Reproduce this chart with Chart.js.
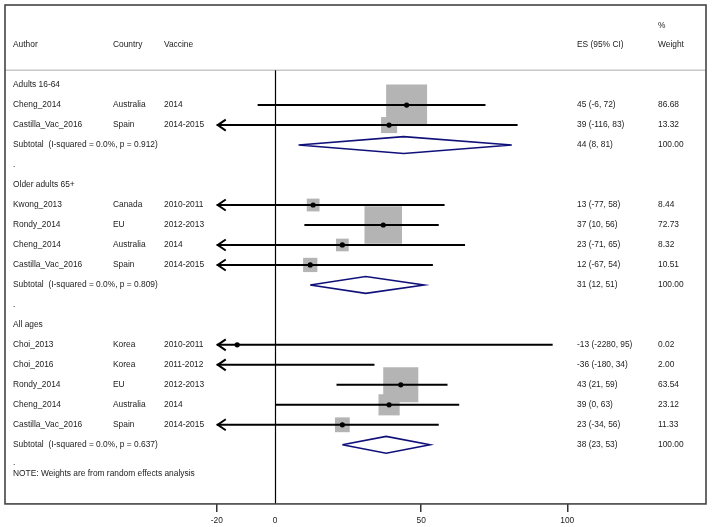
<!DOCTYPE html>
<html>
<head>
<meta charset="utf-8">
<script src="https://cdn.jsdelivr.net/npm/chart.js@4"></script>
<style>
  body { margin: 0; background: #fff; }
</style>
</head>
<body>
<canvas id="forest" width="712" height="527"></canvas>
<script>
// data
const groups = ["Adults 16-64", "Older adults 65+", "All ages"];
const studyGroup = [0, 0, 1, 1, 1, 1, 2, 2, 2, 2, 2];
const authors = ["Cheng_2014", "Castilla_Vac_2016", "Kwong_2013", "Rondy_2014", "Cheng_2014", "Castilla_Vac_2016",
  "Choi_2013", "Choi_2016", "Rondy_2014", "Cheng_2014", "Castilla_Vac_2016"];
const countries = ["Australia", "Spain", "Canada", "EU", "Australia", "Spain", "Korea", "Korea", "EU", "Australia", "Spain"];
const seasons = ["2014", "2014-2015", "2010-2011", "2012-2013", "2014", "2014-2015", "2010-2011", "2011-2012", "2012-2013", "2014", "2014-2015"];
const es = [45, 39, 13, 37, 23, 12, -13, -36, 43, 39, 23];
const ciLow = [-6, -116, -77, 10, -71, -67, -2280, -180, 21, 0, -34];
const ciHigh = [72, 83, 58, 56, 65, 54, 95, 34, 59, 63, 56];
const weights = [86.68, 13.32, 8.44, 72.73, 8.32, 10.51, 0.02, 2.00, 63.54, 23.12, 11.33];
const subHet = ["I-squared = 0.0%, p = 0.912", "I-squared = 0.0%, p = 0.809", "I-squared = 0.0%, p = 0.637"];
const subEs = [44, 31, 38];
const subLow = [8, 12, 23];
const subHigh = [81, 51, 53];
const xTicks = [-20, 0, 50, 100];
const plotMin = -20;

// row index for each line of the table
const studyRow = [], headRow = [], subRow = [], dotRow = [];
let r = 0;
groups.forEach((g, gi) => {
  headRow.push(r++);
  studyGroup.forEach((sg, i) => { if (sg === gi) studyRow[i] = r++; });
  subRow.push(r++);
  dotRow.push(r++);
});

const family = "'Liberation Sans', Arial, sans-serif";
const font = "8.4px " + family;
const ink = "#222";

const shown = es.map((v, i) => i).filter(i => es[i] >= plotMin);

const datasets = [];
// weight boxes
datasets.push({
  type: "scatter",
  order: 5,
  data: shown.map(i => ({ x: es[i], y: studyRow[i] })),
  pointStyle: "rect",
  pointRadius: shown.map(i => 4.4 * Math.sqrt(weights[i]) / Math.SQRT2),
  backgroundColor: "#b4b4b4",
  borderWidth: 0,
});
// confidence intervals
es.forEach((v, i) => {
  datasets.push({
    type: "line",
    order: 3,
    data: [{ x: Math.max(ciLow[i], plotMin), y: studyRow[i] }, { x: ciHigh[i], y: studyRow[i] }],
    borderColor: "#000",
    borderWidth: 2,
    pointRadius: 0,
  });
});
// point estimates
datasets.push({
  type: "scatter",
  order: 1,
  data: shown.map(i => ({ x: es[i], y: studyRow[i] })),
  pointRadius: 2.6,
  backgroundColor: "#000",
  borderWidth: 0,
});
// subtotal diamonds
subEs.forEach((v, i) => {
  const y = subRow[i];
  datasets.push({
    type: "line",
    order: 2,
    data: [{ x: subLow[i], y: y }, { x: v, y: y - 0.42 }, { x: subHigh[i], y: y }, { x: v, y: y + 0.42 }, { x: subLow[i], y: y }],
    borderColor: "#10107a",
    borderWidth: 1.6,
    pointRadius: 0,
    tension: 0,
  });
});

const tablePlugin = {
  id: "table",
  beforeDatasetsDraw(chart) {
    const { ctx, chartArea: a, scales: { x, y } } = chart;
    ctx.save();
    // header separator
    ctx.strokeStyle = "#c8c8c8";
    ctx.lineWidth = 1.5;
    ctx.beginPath();
    ctx.moveTo(a.left, y.getPixelForValue(-0.75));
    ctx.lineTo(a.right, y.getPixelForValue(-0.75));
    ctx.stroke();
    // line of no effect
    ctx.strokeStyle = "#000";
    ctx.lineWidth = 1.2;
    const x0 = Math.round(x.getPixelForValue(0)) + 0.5;
    ctx.beginPath();
    ctx.moveTo(x0, y.getPixelForValue(-0.75));
    ctx.lineTo(x0, a.bottom);
    ctx.stroke();
    ctx.restore();
  },
  afterDatasetsDraw(chart) {
    const { ctx, chartArea: a, scales: { x, y } } = chart;
    ctx.save();
    // arrows for truncated intervals
    ctx.strokeStyle = "#000";
    ctx.lineWidth = 2;
    ciLow.forEach((lo, i) => {
      if (lo >= plotMin) return;
      const px = x.getPixelForValue(plotMin), py = y.getPixelForValue(studyRow[i]);
      ctx.beginPath();
      ctx.moveTo(px + 9, py - 5.5);
      ctx.lineTo(px + 1, py);
      ctx.lineTo(px + 9, py + 5.5);
      ctx.stroke();
    });
    // table text
    ctx.fillStyle = ink;
    ctx.font = font;
    ctx.textBaseline = "middle";
    const col = { author: 13, country: 113, vaccine: 164, es: 577, wt: 658 };
    const hy = y.getPixelForValue(-2);
    ctx.fillText("Author", col.author, hy);
    ctx.fillText("Country", col.country, hy);
    ctx.fillText("Vaccine", col.vaccine, hy);
    ctx.fillText("ES (95% CI)", col.es, hy);
    ctx.fillText("Weight", col.wt, hy);
    ctx.fillText("%", col.wt, y.getPixelForValue(-3));
    groups.forEach((g, gi) => {
      ctx.fillText(g, col.author, y.getPixelForValue(headRow[gi]));
      const sy = y.getPixelForValue(subRow[gi]);
      ctx.fillText("Subtotal  (" + subHet[gi] + ")", col.author, sy);
      ctx.fillText(subEs[gi] + " (" + subLow[gi] + ", " + subHigh[gi] + ")", col.es, sy);
      ctx.fillText("100.00", col.wt, sy);
      const dy = gi === groups.length - 1 ? y.getPixelForValue(dotRow[gi]) - 2 : y.getPixelForValue(dotRow[gi]);
      ctx.fillText(".", col.author, dy);
    });
    authors.forEach((au, i) => {
      const py = y.getPixelForValue(studyRow[i]);
      ctx.fillText(au, col.author, py);
      ctx.fillText(countries[i], col.country, py);
      ctx.fillText(seasons[i], col.vaccine, py);
      ctx.fillText(es[i] + " (" + ciLow[i] + ", " + ciHigh[i] + ")", col.es, py);
      ctx.fillText(weights[i].toFixed(2), col.wt, py);
    });
    ctx.fillText("NOTE: Weights are from random effects analysis", col.author, y.getPixelForValue(dotRow[dotRow.length - 1] + 0.45));
    // outer frame
    ctx.strokeStyle = "#444";
    ctx.lineWidth = 1.6;
    ctx.strokeRect(a.left, a.top, a.right - a.left, a.bottom - a.top);
    ctx.restore();
  },
};

new Chart(document.getElementById("forest"), {
  data: { datasets: datasets },
  options: {
    responsive: false,
    animation: false,
    layout: { autoPadding: false, padding: { left: 5, right: 6, top: 5, bottom: -3 } },
    plugins: { legend: { display: false }, tooltip: { enabled: false } },
    scales: {
      x: {
        type: "linear",
        min: -92.5,
        max: 147.5,
        afterBuildTicks: (axis) => { axis.ticks = xTicks.map(v => ({ value: v })); },
        border: { display: false },
        grid: {
          drawOnChartArea: false,
          tickLength: 8,
          lineWidth: 1.5,
          color: (c) => c.tick && c.tick.value === 0 ? "rgba(0,0,0,0)" : "#333",
        },
        ticks: { color: ink, font: { family: family, size: 8.4 }, padding: 4, maxRotation: 0 },
      },
      y: {
        type: "linear",
        display: false,
        reverse: true,
        min: -4.01,
        max: 20.96,
      },
    },
  },
  plugins: [tablePlugin],
});
</script>
</body>
</html>
